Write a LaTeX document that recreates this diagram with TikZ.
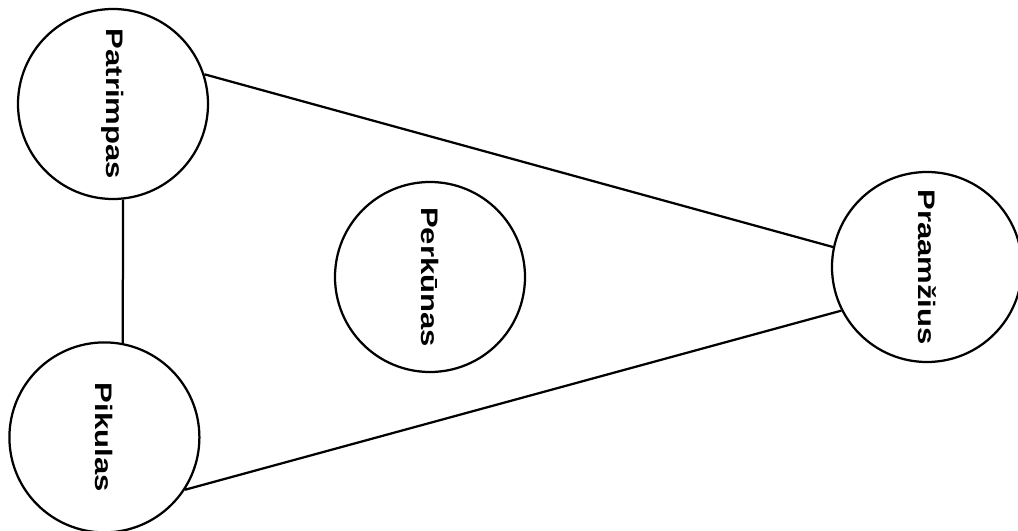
\documentclass[tikz,border=0pt]{standalone}
\usepackage{fontspec}
\setsansfont{Liberation Sans}
\usetikzlibrary{positioning}
\newcommand{\godname}[1]{\rotatebox{-90}{\scalebox{1.3}[1]{#1}}}

\begin{document}
\begin{tikzpicture}[x=1cm,y=1cm]
\tikzset{
  godnode/.style={circle,draw,line width=1.6pt,minimum size=4.75cm,inner sep=0pt,font=\sffamily\bfseries\fontsize{17}{20}\selectfont},
  undirected/.style={line width=1.6pt}
}
\useasboundingbox (0,0) rectangle (25.45,13.275);
\node[godnode] (n_pat) at (2.825,10.675) {\godname{Patrimpas}};
\node[godnode] (n_pik) at (2.61,2.34) {\godname{Pikulas}};
\node[godnode] (n_per) at (10.75,6.35) {\godname{Perkūnas}};
\node[godnode] (n_pra) at (23.175,6.6) {\godname{Praamžius}};
\draw[undirected] (n_pat.-84) -- (n_pik.79);
\draw[undirected] (n_pat.18) -- (n_pra.168);
\draw[undirected] (n_pik.-33) -- (n_pra.-153);
\end{tikzpicture}
\end{document}
